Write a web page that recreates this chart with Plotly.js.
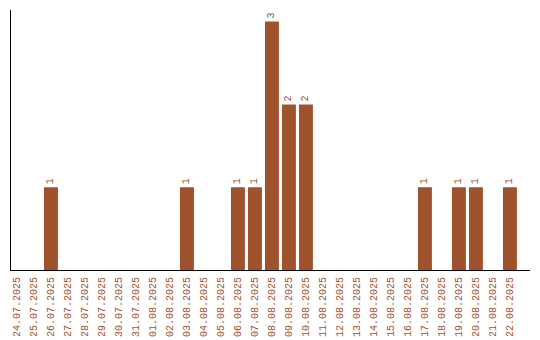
<!DOCTYPE html>
<html>
<head>
<meta charset="utf-8">
<script src="https://cdn.plot.ly/plotly-3.0.1.min.js"></script>
<style>html,body{margin:0;padding:0;background:#fff;}#chart{width:540px;height:340px;}</style>
</head>
<body>
<div id="chart"></div>
<script>
const dates = ["24.07.2025","25.07.2025","26.07.2025","27.07.2025","28.07.2025","29.07.2025","30.07.2025","31.07.2025","01.08.2025","02.08.2025","03.08.2025","04.08.2025","05.08.2025","06.08.2025","07.08.2025","08.08.2025","09.08.2025","10.08.2025","11.08.2025","12.08.2025","13.08.2025","14.08.2025","15.08.2025","16.08.2025","17.08.2025","18.08.2025","19.08.2025","20.08.2025","21.08.2025","22.08.2025"];
const counts = [0,0,1,0,0,0,0,0,0,0,1,0,0,1,1,3,2,2,0,0,0,0,0,0,1,0,1,1,0,1];
const labels = counts.map(v => v > 0 ? String(v) : "");

const brown = "#A0522D";
const font = "Liberation Mono, monospace";

Plotly.newPlot("chart", [{
  type: "bar",
  x: dates,
  y: counts,
  text: labels,
  textposition: "outside",
  textangle: -90,
  cliponaxis: false,
  textfont: {family: font, size: 10, color: brown},
  marker: {color: brown},
  hoverinfo: "none"
}], {
  width: 540, height: 340,
  margin: {l: 11, r: 10, t: 10, b: 70},
  paper_bgcolor: "#fff", plot_bgcolor: "#fff",
  bargap: 0.18,
  showlegend: false,
  xaxis: {
    type: "category",
    range: [-0.35, 30.18],
    showline: true, linecolor: "#000", linewidth: 1,
    showgrid: false, zeroline: false, ticks: "",
    tickangle: -90,
    ticklabelstandoff: 2,
    tickfont: {family: font, size: 10, color: brown}
  },
  yaxis: {
    range: [0, 3.14],
    showline: true, linecolor: "#000", linewidth: 1,
    showgrid: false, zeroline: false, ticks: "",
    showticklabels: false
  }
}, {staticPlot: true});
</script>
</body>
</html>
